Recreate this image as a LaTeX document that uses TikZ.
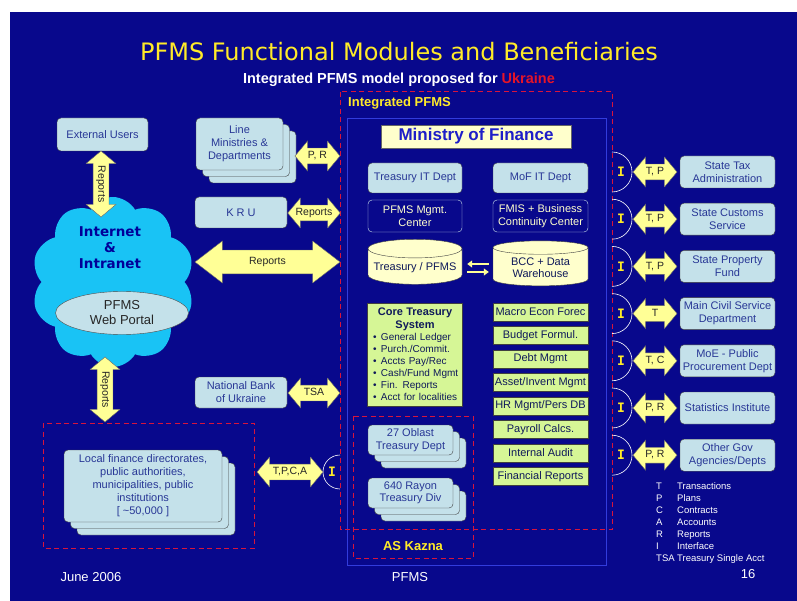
\documentclass[tikz,border=0pt]{standalone}
\usepackage{fontspec}
\setmainfont{Liberation Sans}
\newfontfamily\headfont{DejaVu Sans}
\newfontfamily\ifacefont{DejaVu Sans Mono}
\usetikzlibrary{shapes.geometric,shapes.arrows,shapes.symbols,shadows,calc,arrows.meta}
\definecolor{slide}{RGB}{8,8,140}
\definecolor{frameblue}{RGB}{50,60,220}
\definecolor{dashred}{RGB}{215,20,60}
\definecolor{paleblue}{RGB}{196,225,234}
\definecolor{cream}{RGB}{255,255,204}
\definecolor{lime}{RGB}{214,246,150}
\definecolor{sky}{RGB}{25,195,245}
\definecolor{pointer}{RGB}{255,255,150}
\definecolor{ink}{RGB}{40,55,150}
\definecolor{navy}{RGB}{15,25,90}
\definecolor{gold}{RGB}{255,235,40}
\definecolor{ukr}{RGB}{230,20,40}
\definecolor{mofblue}{RGB}{30,30,200}
\begin{document}
\begin{tikzpicture}[x=1pt,y=1pt]
  \tikzstyle{unit}=[draw=black!75,fill=paleblue,rounded corners=4pt,text=ink,align=center,inner sep=2pt,font=\fontsize{11}{13}\selectfont]
  \tikzstyle{stack}=[unit,double copy shadow={shadow xshift=6.5pt,shadow yshift=-6.5pt}]
  \tikzstyle{centre}=[draw=paleblue!80,fill=slide,rounded corners=4pt,text=cream,align=center,minimum width=94,minimum height=32,inner sep=1pt,font=\fontsize{11}{12.5}\selectfont]
  \tikzstyle{store}=[cylinder,shape border rotate=90,aspect=0.22,draw=black!75,fill=cream,text=navy,align=center,minimum width=94,minimum height=45,inner sep=1pt,font=\fontsize{11}{12.5}\selectfont]
  \tikzstyle{module}=[draw=black!75,fill=lime,text=navy,minimum width=95,minimum height=18,inner sep=0pt,font=\fontsize{11}{13}\selectfont]
  \tikzstyle{flow}=[double arrow,draw=black!60,fill=pointer,text=black!85,double arrow head extend=7pt,double arrow tip angle=100,inner xsep=1pt,inner ysep=3pt,text height=7.5pt,text depth=2pt,font=\fontsize{10.5}{12}\selectfont]
  \tikzstyle{iface}=[text=gold,font=\ifacefont\bfseries\fontsize{13}{13}\selectfont,inner sep=0pt]
  \tikzstyle{dashframe}=[draw=dashred,line width=1pt,dash pattern=on 5pt off 3.5pt]
  \tikzstyle{caption}=[text=white,font=\fontsize{13}{15}\selectfont]
  \tikzstyle{pairarrow}=[draw=pointer,line width=1.8pt,-{Triangle[length=5pt,width=7pt]}]
  \useasboundingbox (0,0) rectangle (797,-601);
  \fill[white] (0,0) rectangle (797,-601);
  \fill[slide] (10,-12) rectangle (797,-601);

  \node[text=gold,font=\headfont\fontsize{24}{28}\selectfont] (title) at (399,-52) {PFMS Functional Modules and Beneficiaries};
  \node[text=white,font=\bfseries\fontsize{14.5}{17}\selectfont] (subtitle) at (399,-80) {Integrated PFMS model proposed for \textcolor{ukr}{Ukraine}};

  \draw[frameblue,line width=0.8pt] (347,-118) rectangle (606,-565);
  \draw[dashframe] (340,-92) rectangle (612,-529);
  \draw[dashframe] (353,-416) rectangle (473,-558);
  \draw[dashframe] (43,-423) rectangle (254,-548);
  \node[text=gold,font=\bfseries\fontsize{13}{15}\selectfont,anchor=west,inner sep=0pt] (ipfms) at (348,-103) {Integrated PFMS};
  \node[text=gold,font=\bfseries\fontsize{13}{15}\selectfont] (kazna) at (413,-546) {AS Kazna};

  \node[minimum width=190,minimum height=23,fill=cream,draw=black!60,text=mofblue,font=\bfseries\fontsize{17}{20}\selectfont,inner sep=0pt] (mof) at (476,-136.5) {Ministry of Finance};
  \node[unit,minimum width=94,minimum height=30] (tit) at (415,-178) {Treasury IT Dept};
  \node[unit,minimum width=95,minimum height=30] (mit) at (540.5,-178) {MoF IT Dept};
  \node[centre] (pmc) at (415,-216) {PFMS Mgmt.\\Center};
  \node[centre,minimum width=95] (fmis) at (540.5,-216) {FMIS + Business\\Continuity Center};
  \node[store] (tp) at (415,-267.5) {Treasury / PFMS};
  \node[store,minimum width=95] (dw) at (540.5,-267.5) {BCC + Data\\Warehouse};
  \draw[pairarrow] ($(dw.west)+(-4,3.5)$) -- ($(tp.east)+(5,3.5)$);
  \draw[pairarrow] ($(tp.east)+(5,-4.5)$) -- ($(dw.west)+(-4,-4.5)$);

  \node[module,text width=90,minimum height=103,align=left,inner xsep=2pt,inner ysep=3pt,font=\fontsize{10}{12}\selectfont] (core) at (415,-354.5)
    {{\centering\bfseries\fontsize{11}{13}\selectfont Core Treasury\\System\par}
     \hspace*{3pt}\makebox[8pt][l]{\textbullet}General Ledger\\
     \hspace*{3pt}\makebox[8pt][l]{\textbullet}Purch./Commit.\\
     \hspace*{3pt}\makebox[8pt][l]{\textbullet}Accts Pay/Rec\\
     \hspace*{3pt}\makebox[8pt][l]{\textbullet}Cash/Fund Mgmt\\
     \hspace*{3pt}\makebox[8pt][l]{\textbullet}Fin. Reports\\
     \hspace*{3pt}\makebox[8pt][l]{\textbullet}Acct for localities};
  \foreach \k/\txt in {0/Macro Econ Forec,1/Budget Formul.,2/Debt Mgmt,3/{Asset/Invent Mgmt},4/{HR Mgmt/Pers DB},5/Payroll Calcs.,6/Internal Audit,7/Financial Reports}
    \node[module] (mod\k) at (540.5,{-312-23.5*\k}) {\txt};

  \node[stack,minimum width=85,minimum height=30,font=\fontsize{11}{12.5}\selectfont] (oblast) at (410.5,-440) {27 Oblast\\Treasury Dept};
  \node[stack,minimum width=85,minimum height=30,font=\fontsize{11}{12.5}\selectfont] (rayon) at (410.5,-493) {640 Rayon\\Treasury Div};

  \node[unit,minimum width=91,minimum height=33] (ext) at (102.5,-134.5) {External Users};
  \node[cloud,cloud puffs=10,cloud puff arc=120,aspect=1,fill=sky,minimum width=163,minimum height=170,inner sep=0pt] (net) at (113,-282) {};
  \node[text=blue!60!black,align=center,font=\headfont\bfseries\fontsize{13.5}{16}\selectfont] (inet) at (110,-248) {Internet\\\&\\Intranet};
  \node[ellipse,draw=black!70,fill=paleblue,minimum width=133,minimum height=43,inner sep=0pt,align=center,text=black!85,font=\fontsize{13}{15}\selectfont] (portal) at (122,-313) {PFMS\\Web Portal};
  \node[flow,rotate=-90,minimum height=66] (rep1) at (101,-184) {Reports};
  \node[flow,rotate=-90,minimum height=65] (rep2) at (105,-389.5) {Reports};

  \node[stack,minimum width=87,minimum height=52] (lmd) at (239.5,-144) {Line\\Ministries \&\\Departments};
  \node[flow,minimum height=45] (pr) at (317.5,-156) {P, R};
  \node[unit,minimum width=92,minimum height=31] (kru) at (241,-212.5) {K R U};
  \node[flow,minimum height=52] (krurep) at (314,-213) {Reports};
  \node[flow,minimum height=145,double arrow head extend=9pt,inner ysep=7pt,double arrow tip angle=75] (bigrep) at (267.5,-262) {Reports};
  \node[unit,minimum width=92,minimum height=31] (nbu) at (241,-392.5) {National Bank\\of Ukraine};
  \node[flow,minimum height=52] (tsa) at (314,-393) {TSA};
  \node[stack,minimum width=158,minimum height=72] (local) at (143,-486) {Local finance directorates,\\public authorities,\\municipalities, public\\institutions\\{[} \textasciitilde 50,000 ]};
  \node[flow,minimum height=66] (tpca) at (290,-472) {T,P,C,A};
  \draw[white,line width=0.6pt] (340,-455) arc[start angle=90,end angle=270,radius=17];
  \node[iface] (iloc) at (332,-472) {I};

  \foreach \k/\lbl/\txt in {0/{T, P}/{State Tax\\Administration},1/{T, P}/{State Customs\\Service},2/{T, P}/{State Property\\Fund},3/T/{Main Civil Service\\Department},4/{T, C}/{MoE - Public\\Procurement Dept},5/{P, R}/{Statistics Institute},6/{P, R}/{Other Gov\\Agencies/Depts}}
  {
    \node[unit,minimum width=95,minimum height=32] (agency\k) at (727.5,{-172-47.2*\k}) {\txt};
    \node[flow,minimum height=44] (link\k) at (655,{-172-47.2*\k}) {\lbl};
    \draw[white,line width=0.6pt] (612,{-152-47.2*\k}) arc[start angle=90,end angle=-90,radius=20];
    \node[iface] (iface\k) at (621,{-172-47.2*\k}) {I};
  }

  \node[anchor=north west,inner sep=0pt,text=white,font=\fontsize{9.5}{12}\selectfont] (legend) at (656,-481)
    {\begin{tabular}{@{}p{21pt}@{}l@{}}T & Transactions\\ P & Plans\\ C & Contracts\\ A & Accounts\\ R & Reports\\ I & Interface\\ TSA & Treasury Single Acct\end{tabular}};
  \node[caption,anchor=west] (date) at (57,-577) {June 2006};
  \node[caption] (footer) at (410,-577) {PFMS};
  \node[caption] (page) at (748,-574) {16};
\end{tikzpicture}
\end{document}
